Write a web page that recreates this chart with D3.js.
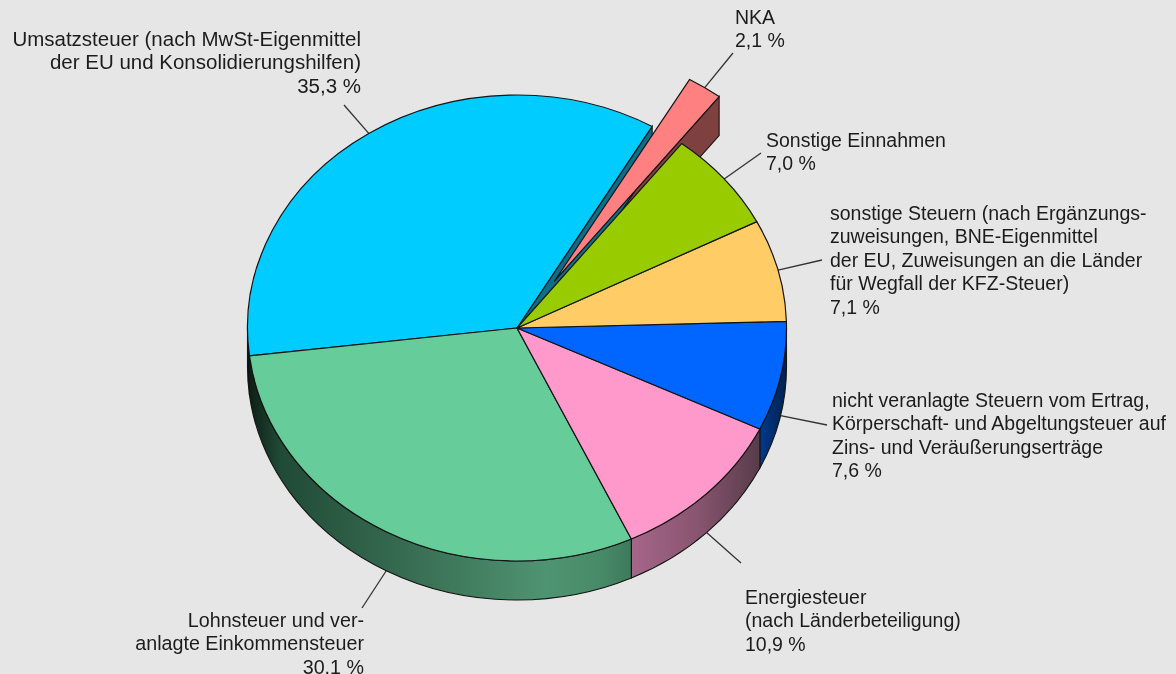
<!DOCTYPE html>
<html><head><meta charset="utf-8">
<script src="https://cdn.jsdelivr.net/npm/d3@7"></script>
<style>html,body{margin:0;padding:0;background:#e6e6e6;overflow:hidden}svg{display:block;filter:blur(.35px)}
text{font-family:"Liberation Sans",Arial,sans-serif;font-size:19.5px;fill:#1c1c1c}</style>
</head><body><div id="c"></div>
<script>
const categories=["NKA","Sonstige Einnahmen","sonstige Steuern","nicht veranlagte Steuern","Energiesteuer","Lohnsteuer und Einkommensteuer","Umsatzsteuer"];
const values=[2.1,7.0,7.1,7.6,10.9,30.1,35.3];
const colors=["#ff8080","#99cc00","#ffcc66","#0066ff","#ff99cc","#66cc99","#00ccff"];
const labelLines=[
 ["NKA","2,1 %"],
 ["Sonstige Einnahmen","7,0 %"],
 ["sonstige Steuern (nach Ergänzungs-","zuweisungen, BNE-Eigenmittel","der EU, Zuweisungen an die Länder","für Wegfall der KFZ-Steuer)","7,1 %"],
 ["nicht veranlagte Steuern vom Ertrag,","Körperschaft- und Abgeltungsteuer auf","Zins- und Veräußerungserträge","7,6 %"],
 ["Energiesteuer","(nach Länderbeteiligung)","10,9 %"],
 ["Lohnsteuer und ver-","anlagte Einkommensteuer","30,1 %"],
 ["Umsatzsteuer (nach MwSt-Eigenmittel","der EU und Konsolidierungshilfen)","35,3 %"]
];
// layout
const W=1176,H=674,cx=517,cy=328,rx=269.5,ry=233,depth=39,lineH=23.4;
const explode={0:[37.5,-47]};
const labelPos=[
 {x:735,y:24,a:"start",end:[733,53]},
 {x:766,y:147,a:"start",end:[761,153]},
 {x:830,y:220,a:"start",end:[822,260]},
 {x:832,y:407,a:"start",end:[827,425]},
 {x:745,y:604,a:"start",end:[741,563]},
 {x:364,y:627,a:"end",end:[362,608],fs:19.7},
 {x:361,y:46,a:"end",end:[344,105],fs:20.5}
];
const rimStops={
 3:[[0,"#003a8c"],[1,"#00204d"]],
 4:[[0,"#a5668a"],[.5,"#8a5570"],[1,"#573c4a"]],
 5:[[0,"#0d1f16"],[.08,"#204a36"],[.45,"#3a7055"],[.78,"#4f9472"],[.92,"#478a68"],[1,"#3d7a5c"]],
 6:[[0,"#000"],[1,"#0a2a30"]]
};
const svg=d3.select("#c").append("svg").attr("width",W).attr("height",H);
const defs=svg.append("defs");
const pie=d3.pie().sort(null).value(d=>d).startAngle(30.1*Math.PI/180).endAngle((30.1+360)*Math.PI/180);
const arcs=pie(values);
const pt=(a,r=1)=>[rx*r*Math.sin(a),-ry*r*Math.cos(a)];
const off=i=>explode[i]||[0,0];
const arcGen=d3.arc().innerRadius(0).outerRadius(rx);
const g=svg.append("g").attr("transform",`translate(${cx},${cy})`);
function rim(a0,a1){
 const [x0,y0]=pt(a0),[x1,y1]=pt(a1);
 const large=a1-a0>Math.PI?1:0;
 return `M${x0},${y0}A${rx},${ry} 0 ${large} 1 ${x1},${y1}L${x1},${y1+depth}A${rx},${ry} 0 ${large} 0 ${x0},${y0+depth}Z`;
}
const HALF=Math.PI/2;
const stroke="#141414";
// leader lines
arcs.forEach((d,i)=>{
 const mid=(d.startAngle+d.endAngle)/2,[x,y]=pt(mid),[ox,oy]=off(i);
 const m=mid%(2*Math.PI),lower=m>HALF&&m<3*HALF;
 g.append("line").attr("x1",x+ox).attr("y1",y+oy+(lower?depth:0))
  .attr("x2",labelPos[i].end[0]-cx).attr("y2",labelPos[i].end[1]-cy)
  .attr("stroke","#333").attr("stroke-width",1.3);
});
// exploded slice cut wall
{const d=arcs[0],[ox,oy]=off(0),[x1,y1]=pt(d.endAngle);
 g.append("path").attr("d",`M${x1+ox},${y1+oy}L${x1+ox},${y1+oy+depth}L${ox},${oy+depth}L${ox},${oy}Z`)
  .attr("fill","#7f4040").attr("stroke",stroke).attr("stroke-width",1.1);
}
// Umsatz cut wall, facing the gap
{const [x0,y0]=pt(arcs[6].endAngle);
 g.append("path").attr("d",`M${x0},${y0}L${x0},${y0+depth}L0,${depth}L0,0Z`)
  .attr("fill","#0b6f8c").attr("stroke",stroke).attr("stroke-width",1.1);
}
// front rims
arcs.forEach((d,i)=>{
 if(!rimStops[i])return;
 const a0=Math.max(d.startAngle,HALF),a1=Math.min(d.endAngle,3*HALF);
 if(a1<=a0)return;
 const xs=[pt(a0)[0],pt(a1)[0]],id="rim"+i;
 const lg=defs.append("linearGradient").attr("id",id).attr("gradientUnits","userSpaceOnUse")
  .attr("x1",Math.min(...xs)).attr("x2",Math.max(...xs)).attr("y1",0).attr("y2",0);
 rimStops[i].forEach(s=>lg.append("stop").attr("offset",s[0]).attr("stop-color",s[1]));
 g.append("path").attr("d",rim(a0,a1)).attr("fill",`url(#${id})`).attr("stroke",stroke).attr("stroke-width",1.1);
});
// top faces
[6,5,4,3,2,1,0].forEach(i=>{
 const [ox,oy]=off(i);
 g.append("path").attr("d",arcGen(arcs[i]))
  .attr("transform",`translate(${ox},${oy}) scale(1,${ry/rx})`)
  .attr("fill",colors[i]).attr("stroke",stroke).attr("stroke-width",1.2)
  .attr("stroke-linejoin","round").attr("vector-effect","non-scaling-stroke");
});
// labels
labelLines.forEach((lines,i)=>{
 const p=labelPos[i],t=svg.append("text").attr("text-anchor",p.a);
 if(p.fs)t.style("font-size",p.fs+"px");
 lines.forEach((l,j)=>t.append("tspan").attr("x",p.x).attr("y",p.y+j*lineH).text(l));
});
</script></body></html>
